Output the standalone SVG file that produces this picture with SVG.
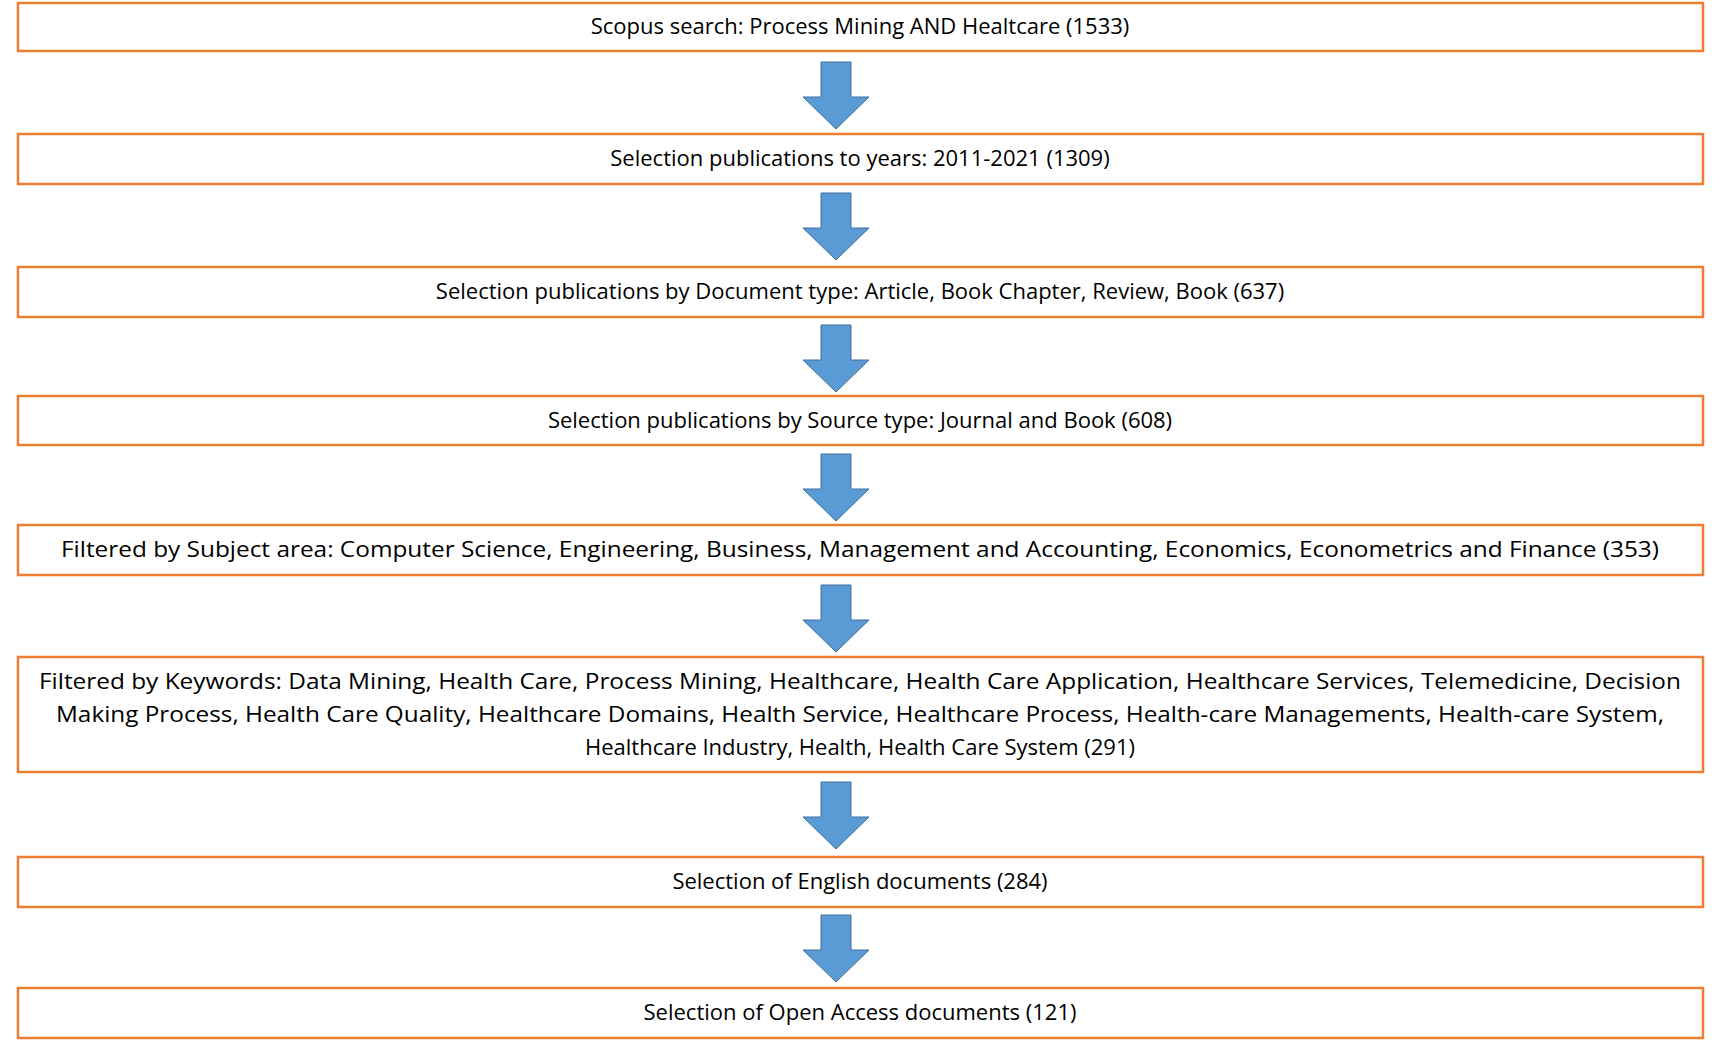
<svg xmlns="http://www.w3.org/2000/svg" width="1723" height="1056" viewBox="0 0 1723 1056">
<defs><style>
.b{fill:#fff;stroke:#ED7D31;stroke-width:2.5}
.t{font-family:"Open Sans","Liberation Sans",sans-serif;font-size:22px;fill:#000;text-anchor:middle}
.a{fill:#5B9BD5;stroke:#41719C;stroke-width:1}
</style>
<path id="arr" d="M-15,0 H15 V35 H33 L0,67 L-33,35 H-15 Z"/></defs>
<rect width="1723" height="1056" fill="#fff"/>
<g id="n1"><rect class="b" x="18" y="3" width="1685" height="48"/><text class="t" x="860" y="34">Scopus search: Process Mining AND Healtcare (1533)</text></g>
<g id="n2"><rect class="b" x="18" y="134" width="1685" height="50"/><text class="t" x="860" y="166">Selection publications to years: 2011-2021 (1309)</text></g>
<g id="n3"><rect class="b" x="18" y="267" width="1685" height="50"/><text class="t" x="860" y="299">Selection publications by Document type: Article, Book Chapter, Review, Book (637)</text></g>
<g id="n4"><rect class="b" x="18" y="396" width="1685" height="49"/><text class="t" x="860" y="428">Selection publications by Source type: Journal and Book (608)</text></g>
<g id="n5"><rect class="b" x="18" y="525" width="1685" height="50"/><text class="t" x="860" y="557" textLength="1598" lengthAdjust="spacingAndGlyphs">Filtered by Subject area: Computer Science, Engineering, Business, Management and Accounting, Economics, Econometrics and Finance (353)</text></g>
<g id="n6"><rect class="b" x="18" y="657" width="1685" height="115"/>
<text class="t" x="860" y="689" textLength="1642" lengthAdjust="spacingAndGlyphs">Filtered by Keywords: Data Mining, Health Care, Process Mining, Healthcare, Health Care Application, Healthcare Services, Telemedicine, Decision</text>
<text class="t" x="860" y="722" textLength="1608" lengthAdjust="spacingAndGlyphs">Making Process, Health Care Quality, Healthcare Domains, Health Service, Healthcare Process, Health-care Managements, Health-care System,</text>
<text class="t" x="860" y="755">Healthcare Industry, Health, Health Care System (291)</text></g>
<g id="n7"><rect class="b" x="18" y="857" width="1685" height="50"/><text class="t" x="860" y="889">Selection of English documents (284)</text></g>
<g id="n8"><rect class="b" x="18" y="988" width="1685" height="50"/><text class="t" x="860" y="1020">Selection of Open Access documents (121)</text></g>
<g id="connectors">
<use href="#arr" class="a" transform="translate(836,62)"/>
<use href="#arr" class="a" transform="translate(836,193)"/>
<use href="#arr" class="a" transform="translate(836,325)"/>
<use href="#arr" class="a" transform="translate(836,454)"/>
<use href="#arr" class="a" transform="translate(836,585)"/>
<use href="#arr" class="a" transform="translate(836,782)"/>
<use href="#arr" class="a" transform="translate(836,915)"/>
</g>
</svg>
